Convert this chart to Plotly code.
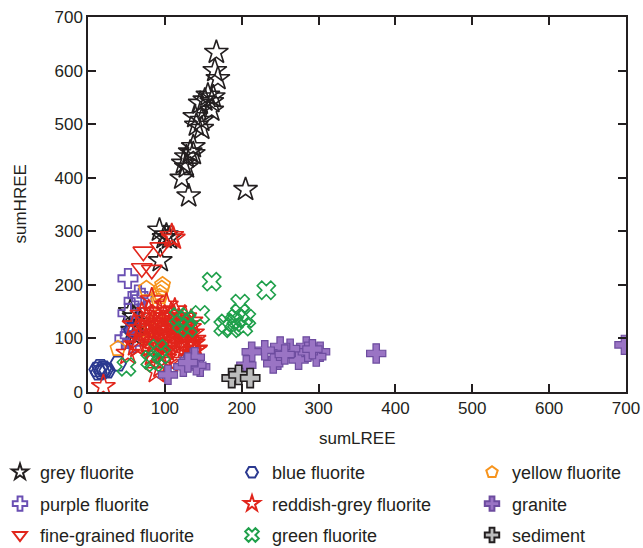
import plotly.graph_objects as go

# ---- data: sumLREE (x) vs sumHREE (y) for each sample group ----
grey_x = [167, 165, 169, 156, 163, 152, 161, 146, 161, 139, 148, 141, 148, 137, 133, 128, 137,
          124, 128, 122, 131, 205, 93, 102, 106, 99, 94, 60, 65, 58, 68, 55, 62]
grey_y = [634, 600, 585, 554, 551, 545, 542, 539, 526, 514, 507, 498, 492, 458, 448, 439, 445,
          427, 420, 399, 366, 378, 302, 293, 287, 288, 245, 140, 125, 115, 130, 150, 105]

purple_x = [52, 65, 52, 55, 60, 48, 58, 70, 62]
purple_y = [212, 181, 147, 106, 170, 100, 92, 175, 120]

fine_x = [72, 70, 83, 94]
fine_y = [262, 231, 228, 270]

blue_x = [12, 16, 22, 18, 20, 14, 25, 39, 57]
blue_y = [42, 47, 41, 38, 44, 36, 40, 53, 116]

yellow_x = [96, 94, 93, 97, 92, 76, 39, 89, 82, 85, 90, 78]
yellow_y = [193, 185, 178, 200, 170, 193, 81, 134, 120, 105, 140, 95]

reddish_x = [20, 52, 65, 89, 107, 100, 83, 113, 102, 137, 139, 111, 109, 83, 88, 93, 98, 103,
             108, 113, 118, 123, 128, 133, 136, 78, 80, 86, 90, 96, 100, 105, 111, 116, 120, 126,
             130, 134, 76, 82, 87, 94, 101, 107, 112, 124, 132, 138, 66, 70, 79, 85, 92, 99, 104,
             109, 114, 122, 127, 134, 70, 62, 106, 102, 125, 129, 95, 84, 60, 140, 95, 115]
reddish_y = [10, 72, 85, 38, 57, 63, 172, 153, 162, 91, 78, 287, 292, 140, 125, 150, 110, 130,
             145, 120, 135, 105, 125, 95, 110, 115, 100, 90, 105, 95, 140, 115, 100, 85, 118, 140,
             108, 88, 135, 125, 110, 130, 100, 92, 140, 95, 120, 98, 100, 118, 150, 82, 75, 125, 88,
             128, 110, 128, 85, 132, 145, 88, 105, 78, 112, 98, 115, 70, 125, 80, 48, 70]

green_x = [161, 232, 146, 198, 180, 193, 206, 187, 202, 176, 198, 190, 128, 122, 130, 118,
           50, 81, 91, 86, 95]
green_y = [206, 190, 144, 165, 128, 137, 137, 119, 122, 122, 147, 130, 134, 128, 120, 140,
           47, 60, 81, 55, 70]

granite_x = [698, 375, 302, 297, 284, 274, 286, 263, 250, 247, 241, 230, 213, 206, 256, 292,
             137, 124, 146, 104, 141, 139, 130]
granite_y = [88, 72, 75, 66, 85, 60, 75, 81, 85, 60, 53, 78, 75, 50, 70, 80,
             63, 47, 47, 32, 50, 65, 55]

sediment_x = [187, 196, 211]
sediment_y = [26, 32, 26]

x_title = "sumLREE"
y_title = "sumHREE"

FONT = "Liberation Sans, Arial, sans-serif"
TXT = "#231f20"

series = [
    # name, x, y, symbol, size, fill, line colour, line width, legend, group
    ("grey fluorite", grey_x, grey_y, "star-open", 18, None, "#231f20", 1.6, "legend", "g1"),
    ("purple fluorite", purple_x, purple_y, "cross-open", 16, None, "#6a4fb3", 1.8, "legend", "g2"),
    ("fine-grained fluorite", fine_x, fine_y, "triangle-down-open", 18, None, "#e1251b", 1.6, "legend", "g3"),
    ("blue fluorite", blue_x, blue_y, "hexagon2-open", 16, None, "#2b3990", 1.8, "legend2", "g4"),
    ("yellow fluorite", yellow_x, yellow_y, "pentagon-open", 16, None, "#f7941d", 1.6, "legend3", "g7"),
    ("reddish-grey fluorite", reddish_x, reddish_y, "star-open", 18, None, "#e1251b", 1.6, "legend2", "g5"),
    ("green fluorite", green_x, green_y, "x-open", 16, None, "#1fa04b", 1.6, "legend2", "g6"),
    ("granite", granite_x, granite_y, "cross", 16, "#9a74c4", "#6d4c9f", 1.2, "legend3", "g8"),
    ("sediment", sediment_x, sediment_y, "cross", 16, "#bcbcbc", "#231f20", 1.6, "legend3", "g9"),
]

fig = go.Figure()
for name, xs, ys, sym, size, fill, lc, lw, leg, grp in series:
    marker = dict(symbol=sym, size=size, line=dict(color=lc, width=lw))
    marker["color"] = fill if fill else lc
    fig.add_trace(go.Scatter(
        x=xs, y=ys, mode="markers", name=name, marker=marker,
        legend=leg, legendgroup=grp,
    ))

axis_common = dict(
    showline=True, linecolor="#231f20", linewidth=1.5, mirror="ticks",
    ticks="inside", ticklen=8, tickwidth=1.5, tickcolor="#231f20",
    showgrid=False, zeroline=False, dtick=100,
    tickfont=dict(family=FONT, size=17, color=TXT),
)

legend_common = dict(
    orientation="v", yanchor="top", xanchor="left",
    xref="container", yref="container", y=1 - 454 / 548,
    font=dict(family=FONT, size=18, color=TXT), itemsizing="constant",
    bgcolor="rgba(0,0,0,0)", tracegroupgap=5, traceorder="grouped",
    itemclick=False, itemdoubleclick=False,
)

# plot area: 88..626 px horizontally, 17..392 px vertically
fig.update_layout(
    width=643, height=548,
    margin=dict(l=88, r=17, t=17, b=156, autoexpand=False),
    paper_bgcolor="white", plot_bgcolor="white",
    font=dict(family=FONT, color=TXT),
    xaxis=dict(axis_common, range=[0, 700]),
    yaxis=dict(axis_common, range=[0, 700]),
    legend=dict(legend_common, x=0 / 643),
    legend2=dict(legend_common, x=232 / 643),
    legend3=dict(legend_common, x=472 / 643),
    annotations=[
        dict(text=x_title, xref="paper", yref="paper", x=0.5, y=(392 - 438) / 375,
             xanchor="center", yanchor="middle", showarrow=False,
             font=dict(family=FONT, size=17, color=TXT)),
        dict(text=y_title, xref="paper", yref="paper", x=(20 - 88) / 538, y=0.5,
             xanchor="center", yanchor="middle", textangle=-90, showarrow=False,
             font=dict(family=FONT, size=17, color=TXT)),
    ],
)

fig.write_html("out.html")
